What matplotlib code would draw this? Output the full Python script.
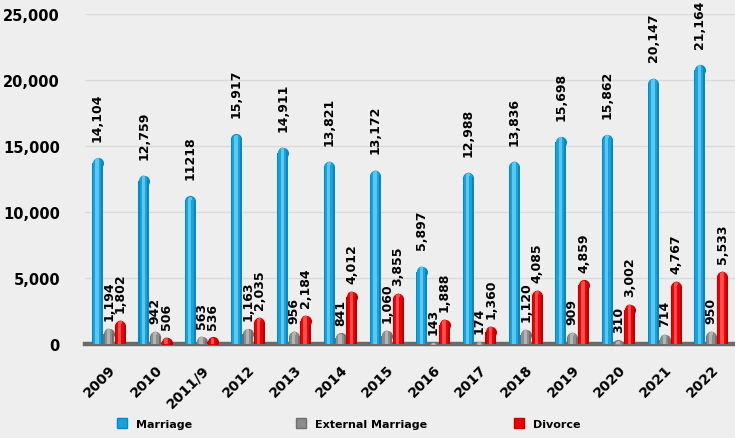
import matplotlib
matplotlib.use("Agg")
import matplotlib.pyplot as plt
from matplotlib.lines import Line2D
import numpy as np

years = ["2009", "2010", "2011/9", "2012", "2013", "2014", "2015", "2016",
         "2017", "2018", "2019", "2020", "2021", "2022"]
marriage = [14104, 12759, 11218, 15917, 14911, 13821, 13172, 5897,
            12988, 13836, 15698, 15862, 20147, 21164]
marriage_labels = ["14,104", "12,759", "11218", "15,917", "14,911", "13,821",
                   "13,172", "5,897", "12,988", "13,836", "15,698", "15,862",
                   "20,147", "21,164"]
external = [1194, 942, 563, 1163, 956, 841, 1060, 143, 174, 1120, 909, 310, 714, 950]
divorce = [1802, 506, 536, 2035, 2184, 4012, 3855, 1888, 1360, 4085, 4859, 3002, 4767, 5533]
series_names = ["Marriage", "External Marriage", "Divorce"]
yticks = [0, 5000, 10000, 15000, 20000, 25000]
ytick_labels = ["0", "5,000", "10,000", "15,000", "20,000", "25,000"]

BG = "#eeeeee"
colors = {
    "Marriage": ("#0a86c4", "#14a3dd", "#5cc8f0"),
    "External Marriage": ("#6e6e6e", "#8c8c8c", "#b4b4b4"),
    "Divorce": ("#c00000", "#f00000", "#ff5050"),
}

fig = plt.figure(figsize=(7.35, 4.39), dpi=100, facecolor=BG)
ax = fig.add_axes([85 / 735, (439 - 345) / 439, (735 - 85) / 735, 330 / 439])
ax.set_facecolor(BG)

x = np.arange(len(years))
width = 0.24
offsets = [0.0, 0.245, 0.49]
ax.set_xlim(-0.27, 13.76)
ax.set_ylim(0, 25000)

# gridlines
ax.set_yticks(yticks)
ax.set_yticklabels(ytick_labels, fontsize=10.5, fontweight="bold")
ax.grid(axis="y", color="#dadada", linewidth=1.0, zorder=0)
ax.set_axisbelow(True)
for s in ax.spines.values():
    s.set_visible(False)
ax.tick_params(axis="both", length=0)
ax.tick_params(axis="y", pad=18)

# floor
ax.axhline(0, color="#6a6a6a", linewidth=3.2, zorder=1, clip_on=False)

# cap radius in data units (half bar width converted to y data)
fig.canvas.draw()
px_per_x = ax.transData.transform((1, 0))[0] - ax.transData.transform((0, 0))[0]
px_per_y = ax.transData.transform((0, 1000))[1] - ax.transData.transform((0, 0))[1]
px_per_y /= 1000.0


def draw_cyl(xpos, vals, name):
    dark, mid, light = colors[name]
    vals = np.asarray(vals, dtype=float)
    layers = [(1.0, dark), (0.7, mid), (0.3, light)]
    for frac, col in layers:
        w = width * frac
        r_px = w * px_per_x / 2.0
        r_data = r_px / px_per_y
        body = np.maximum(vals - r_data, 0)
        shift = 0.04 * width if frac < 1 else 0
        ax.bar(xpos - shift, body, width=w, color=col, linewidth=0, zorder=3)
        s = (2 * r_px * 72 / 100.0) ** 2
        ax.scatter(xpos - shift, vals - r_data, s=s, color=col, marker="o",
                   linewidths=0, zorder=3)


draw_cyl(x + offsets[0], marriage, "Marriage")
draw_cyl(x + offsets[1], external, "External Marriage")
draw_cyl(x + offsets[2], divorce, "Divorce")

for i in range(len(years)):
    ax.annotate(marriage_labels[i], (x[i] + offsets[0], marriage[i]),
                xytext=(0, 12), textcoords="offset points", rotation=90,
                ha="center", va="bottom", fontsize=9, fontweight="bold", zorder=5)
    ax.annotate(f"{external[i]:,}", (x[i] + offsets[1], external[i]),
                xytext=(0, 6), textcoords="offset points", rotation=90,
                ha="center", va="bottom", fontsize=9, fontweight="bold", zorder=5)
    ax.annotate(f"{divorce[i]:,}", (x[i] + offsets[2], divorce[i]),
                xytext=(0, 6), textcoords="offset points", rotation=90,
                ha="center", va="bottom", fontsize=9, fontweight="bold", zorder=5)

ax.set_xticks(x + offsets[1])
ax.set_xticklabels(years, rotation=45, ha="right", va="top",
                   rotation_mode="anchor", fontsize=10, fontweight="bold")
ax.tick_params(axis="x", pad=13)

# legend items
leg_x = [116 / 735, 295 / 735, 513 / 735]
for name, lx in zip(series_names, leg_x):
    h = Line2D([], [], marker="s", linestyle="none", markersize=6.5,
               markerfacecolor=colors[name][1], markeredgecolor=colors[name][0])
    fig.legend([h], [name], loc="center left",
               bbox_to_anchor=(lx, (439 - 425) / 439), frameon=False,
               handlelength=1.0, handletextpad=0.8, borderpad=0,
               borderaxespad=0, prop={"size": 8, "weight": "bold"})

fig.savefig("out.png", dpi=100, facecolor=BG)
